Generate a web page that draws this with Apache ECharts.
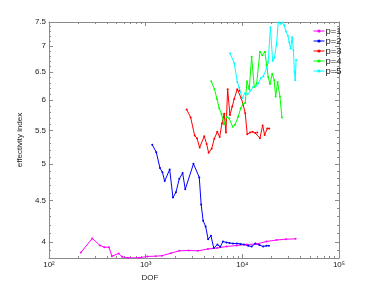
<!DOCTYPE html>
<html>
<head>
<meta charset="utf-8">
<script src="https://cdn.jsdelivr.net/npm/echarts@6/dist/echarts.min.js"></script>
<style>
  html, body { margin: 0; padding: 0; background: #fff; }
  #chart { width: 374px; height: 291px; }
</style>
</head>
<body>
<div id="chart"></div>
<script>
// p=1
const dof1 = [214, 280, 337, 373, 417, 448, 526, 569, 656, 853, 1039, 1269, 1474, 1828, 2224, 2785, 3475, 4406, 5499, 6880, 8735, 11070, 14050, 17830, 22630, 28250, 35580]
const eff1 = [3.88, 4.04, 3.96, 3.94, 3.94, 3.84, 3.87, 3.833, 3.822, 3.822, 3.837, 3.84, 3.845, 3.873, 3.899, 3.903, 3.899, 3.92, 3.931, 3.948, 3.959, 3.97, 3.976, 4.005, 4.022, 4.031, 4.035]
// p=2
const dof2 = [1170, 1287, 1406, 1492, 1573, 1771, 1916, 2058, 2226, 2413, 2567, 3122, 3585, 3750, 3932, 4173, 4429, 4735, 5062, 5527, 5909, 6302, 6848, 7355, 7991, 8794, 9559, 10390, 11510, 12480, 13600, 15030, 16450, 17750, 18840]
const eff2 = [5.28, 5.17, 4.94, 4.88, 4.76, 4.92, 4.54, 4.61, 4.79, 4.87, 4.65, 5.0, 4.81, 4.45, 4.25, 4.18, 4.03, 4.07, 3.93, 3.97, 3.944, 4.005, 3.993, 3.988, 3.981, 3.981, 3.977, 3.97, 3.956, 3.947, 3.981, 3.964, 3.947, 3.956, 3.956]
// p=3
const dof3 = [2655, 2920, 3211, 3393, 3618, 4036, 4274, 4483, 4814, 5123, 5502, 5825, 6152, 6500, 6767, 7047, 7443, 7862, 8247, 8857, 9288, 9741, 10210, 10710, 11240, 11990, 12780, 13600, 14260, 15210, 16220, 17010, 18100, 18970]
const eff3 = [5.84, 5.71, 5.42, 5.38, 5.24, 5.41, 5.29, 5.16, 5.22, 5.37, 5.48, 5.40, 5.61, 5.77, 5.47, 6.19, 5.75, 5.89, 6.02, 6.19, 6.16, 6.03, 5.92, 5.78, 5.44, 5.47, 5.48, 5.46, 5.47, 5.38, 5.58, 5.43, 5.53, 5.53]
// p=4
const dof4 = [4768, 5147, 5462, 5770, 6080, 6452, 6880, 7318, 7935, 8386, 9071, 9604, 10140, 10710, 11160, 11790, 12480, 13280, 14060, 15210, 16070, 17130, 17840, 18530, 19300, 20390, 21380, 22110, 23180, 24480, 25670]
const eff4 = [6.33, 6.19, 6.02, 5.86, 5.77, 5.60, 5.72, 5.69, 5.56, 5.59, 5.72, 5.86, 5.93, 5.95, 6.33, 6.19, 6.79, 6.23, 6.29, 6.89, 6.82, 6.89, 6.63, 6.41, 6.28, 6.47, 6.35, 6.06, 6.32, 6.06, 5.71]
// p=5
const dof5 = [7443, 8247, 8857, 9288, 9976, 10640, 11340, 12130, 12960, 13730, 14600, 15570, 16450, 17840, 18520, 19520, 20580, 21480, 22520, 23510, 24890, 26110, 27130, 28240, 29620, 30550, 31590, 32730, 33770, 34580, 35240, 36000]
const eff5 = [6.86, 6.67, 6.32, 6.22, 6.03, 6.12, 6.10, 6.16, 6.23, 6.24, 6.29, 6.39, 6.42, 6.57, 6.69, 7.39, 6.71, 6.77, 7.02, 7.49, 7.46, 7.49, 7.43, 7.30, 7.21, 7.08, 6.95, 7.18, 6.92, 6.50, 6.35, 6.73]

const names = ['p=1', 'p=2', 'p=3', 'p=4', 'p=5']
const colors = ['#ff00ff', '#0000ff', '#ff0000', '#00ff00', '#00ffff']

const xMajor = [100, 1000, 10000, 100000]
const xMajorLabels = ['10²', '10³', '10⁴', '10⁵']
const xMinor = [200, 300, 400, 500, 600, 700, 800, 900, 2000, 3000, 4000, 5000, 6000, 7000, 8000, 9000, 20000, 30000, 40000, 50000, 60000, 70000, 80000, 90000]
const yMajor = [4, 4.5, 5, 5.5, 6, 6.5, 7, 7.5]
const yMinor = [3.9, 4.1, 4.2, 4.3, 4.4, 4.6, 4.7, 4.8, 4.9, 5.1, 5.2, 5.3, 5.4, 5.6, 5.7, 5.8, 5.9, 6.1, 6.2, 6.3, 6.4, 6.6, 6.7, 6.8, 6.9, 7.1, 7.2, 7.3, 7.4]

const font = 'Liberation Sans'
const lineColor = '#8a8a8a'
const xMin = 100, xMax = 100000, yMin = 3.82, yMax = 7.5

function xAxisOf(position, major, labels) {
  return {
    type: 'log', min: xMin, max: xMax, position,
    axisLine: { show: major, onZero: false, lineStyle: { color: lineColor, width: 1 } },
    axisTick: { show: true, inside: true, length: major ? 4 : 2, customValues: major ? xMajor : xMinor, lineStyle: { color: lineColor } },
    axisLabel: {
      show: labels, customValues: xMajor, fontSize: 8, margin: 3, color: '#222', fontFamily: font,
      formatter: (v) => xMajorLabels[xMajor.indexOf(Math.round(v))] || ''
    },
    splitLine: { show: false }
  }
}
function yAxisOf(position, major, labels) {
  return {
    type: 'log', min: yMin, max: yMax, position,
    axisLine: { show: major, onZero: false, lineStyle: { color: lineColor, width: 1 } },
    axisTick: { show: true, inside: true, length: major ? 4 : 2, customValues: major ? yMajor : yMinor, lineStyle: { color: lineColor } },
    axisLabel: { show: labels, customValues: yMajor, fontSize: 8, margin: 3, color: '#222', fontFamily: font },
    splitLine: { show: false }
  }
}

const xAxes = [xAxisOf('bottom', true, true), xAxisOf('bottom', false, false), xAxisOf('top', true, false), xAxisOf('top', false, false)]
xAxes[0].name = 'DOF'
xAxes[0].nameLocation = 'middle'
xAxes[0].nameGap = 14
xAxes[0].nameTextStyle = { fontSize: 8, color: '#222', fontFamily: font, padding: [0, 88, 0, 0] }

const yAxes = [yAxisOf('left', true, true), yAxisOf('left', false, false), yAxisOf('right', true, false), yAxisOf('right', false, false)]
yAxes[0].name = 'effectivity index'
yAxes[0].nameLocation = 'middle'
yAxes[0].nameGap = 11
yAxes[0].nameTextStyle = { fontSize: 8, color: '#222', fontFamily: font }

const dofs = [dof1, dof2, dof3, dof4, dof5]
const effs = [eff1, eff2, eff3, eff4, eff5]

const chart = echarts.init(document.getElementById('chart'), null, { renderer: 'canvas' })
chart.setOption({
  animation: false,
  backgroundColor: '#fff',
  grid: { left: 49, right: 35, top: 22, bottom: 33, containLabel: false },
  legend: {
    orient: 'vertical', left: 308, top: 21,
    itemWidth: 11, itemHeight: 4, itemGap: 0,
    lineStyle: { width: 1 },
    textStyle: { fontSize: 9.5, lineHeight: 9, color: '#222', fontFamily: font, padding: [0, 0, 0, -4] },
    data: names
  },
  xAxis: xAxes,
  yAxis: yAxes,
  series: names.map((name, i) => ({
    name,
    type: 'line',
    xAxisIndex: 0,
    yAxisIndex: 0,
    color: colors[i],
    symbol: 'circle',
    symbolSize: 2,
    lineStyle: { width: 1 },
    data: dofs[i].map((d, j) => [d, effs[i][j]])
  }))
})
</script>
</body>
</html>
